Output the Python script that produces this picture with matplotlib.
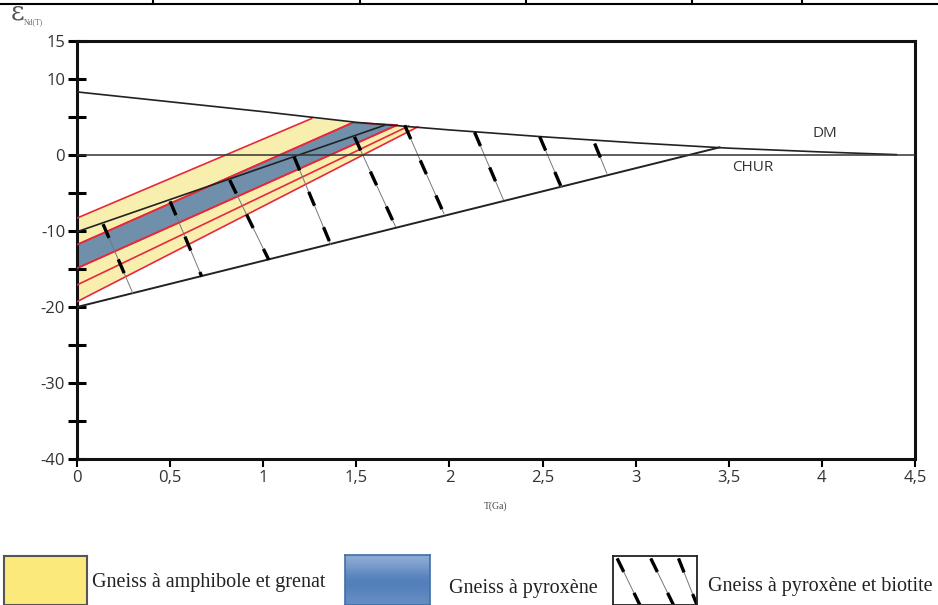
import numpy as np
import matplotlib
matplotlib.use("Agg")
import matplotlib.pyplot as plt
from matplotlib.patches import Polygon
from matplotlib.lines import Line2D
from matplotlib.colors import LinearSegmentedColormap

# DM (depleted mantle) curve
dm_t = [0.0, 0.5, 1.0, 1.5, 2.0, 2.5, 3.0, 3.5, 4.0, 4.4]
dm_e = [8.3, 7.0, 5.7, 4.3, 3.3, 2.4, 1.6, 0.9, 0.4, 0.05]

# CHUR
chur_t = [0.0, 4.5]
chur_e = [0.0, 0.0]

# red evolution lines (start at T=0, end on DM)
red_e0 = [-8.3, -11.8, -14.9, -17.1, -19.3]
red_t1 = [1.26, 1.48, 1.72, 1.78, 1.83]
red_e1 = [4.8, 4.25, 3.95, 3.8, 3.7]

# hatched field (pyroxene-biotite gneiss)
hat_top_t = [0.0, 1.65]
hat_top_e = [-10.1, 3.9]
hat_bot_t = [0.0, 3.45]
hat_bot_e = [-20.0, 1.0]
hatch_t0 = [0.14, 0.50, 0.82, 1.165, 1.49, 1.76, 2.135, 2.485, 2.78]
hatch_e0 = [-9.1, -6.1, -3.3, -0.2, 2.4, 3.9, 3.0, 2.4, 1.5]
hatch_t1 = [0.30, 0.67, 1.03, 1.363, 1.71, 1.97, 2.29, 2.60, 2.845]
hatch_e1 = [-18.2, -16.0, -13.8, -11.8, -9.4, -7.7, -5.9, -4.2, -2.4]

x_ticks = [0, 0.5, 1, 1.5, 2, 2.5, 3, 3.5, 4, 4.5]
x_labels = ["0", "0,5", "1", "1,5", "2", "2,5", "3", "3,5", "4", "4,5"]
y_ticks = [15, 10, 0, -10, -20, -30, -40]
y_minor = [5, -5, -15, -25, -35]

legend_labels = ["Gneiss à amphibole et grenat", "Gneiss à pyroxène",
                 "Gneiss à pyroxène et biotite"]

yellow = "#F8EFAE"
blue = "#6F8FAB"
red = "#E8283C"
hatch_style = (0, (4.5, 7.0))

W, H = 938, 605
fig = plt.figure(figsize=(W / 100, H / 100), dpi=100)
ax = fig.add_axes([77 / W, 1 - 459 / H, (915 - 77) / W, (459 - 41) / H])
ax.set_xlim(0, 4.5)
ax.set_ylim(-40, 15)

#Yellow field (between top and bottom red lines, closed along DM)
dm_seg_t = [t for t in dm_t if red_t1[0] < t < red_t1[-1]]
dm_seg_e = [e for t, e in zip(dm_t, dm_e) if red_t1[0] < t < red_t1[-1]]
ypoly = [(0, red_e0[0]), (red_t1[0], red_e1[0])] + list(zip(dm_seg_t, dm_seg_e)) + \
        [(red_t1[-1], red_e1[-1]), (0, red_e0[-1])]
ax.add_patch(Polygon(ypoly, closed=True, facecolor=yellow, edgecolor="none", zorder=1))

#Blue field
bpoly = [(0, red_e0[1]), (red_t1[1], red_e1[1]), (red_t1[2], red_e1[2]), (0, red_e0[2])]
ax.add_patch(Polygon(bpoly, closed=True, facecolor=blue, edgecolor=red, lw=1.2, zorder=2))

for e0, t1, e1 in zip(red_e0, red_t1, red_e1):
    ax.plot([0, t1], [e0, e1], color=red, lw=1.2, zorder=3)

#Hatched field boundaries
ax.plot(hat_top_t, hat_top_e, color="#222222", lw=1.2, zorder=4)
ax.plot(hat_bot_t, hat_bot_e, color="#222222", lw=1.4, zorder=4)

for t0, e0, t1, e1 in zip(hatch_t0, hatch_e0, hatch_t1, hatch_e1):
    ax.plot([t0, t1], [e0, e1], color="#777777", lw=0.7, zorder=4)
    ax.plot([t0, t1], [e0, e1], color="black", lw=2.4, zorder=5,
            linestyle=hatch_style, dash_capstyle="butt")

ax.plot(dm_t, dm_e, color="#222222", lw=1.2, zorder=4)
ax.plot(chur_t, chur_e, color="#333333", lw=1.1, zorder=4)

ax.text(3.95, 1.8, "DM", fontsize=11, color="#333333", family="Open Sans",
        ha="left", va="bottom")
ax.text(3.52, -0.6, "CHUR", fontsize=11, color="#333333", family="Open Sans",
        ha="left", va="top")

#Axes styling
for s in ax.spines.values():
    s.set_linewidth(2.2)
    s.set_color("#111111")
ax.set_xticks(x_ticks)
ax.set_xticklabels(x_labels, family="Open Sans", fontsize=12, color="#333333")
ax.set_yticks(y_ticks)
ax.set_yticklabels([str(v) for v in y_ticks], family="Open Sans", fontsize=12,
                   color="#333333")
ax.set_yticks(y_minor, minor=True)
ax.tick_params(axis="y", which="both", direction="inout", length=13, width=2.2,
               pad=2)
ax.tick_params(axis="x", which="both", direction="out", length=6, width=1.5, pad=2)
ax.tick_params(axis="x", which="minor", length=0)

ax.set_xlabel("T(Ga)", fontsize=7, family="Liberation Serif", color="#444444",
              labelpad=11)

fig.text(11 / W, 1 - 20 / H, "ε", fontsize=19, color="#555555", family="DejaVu Serif",
         va="baseline")
fig.text(24 / W, 1 - 24 / H, "Nd(T)", fontsize=5.5, color="#666666",
         family="Liberation Serif", va="baseline")

#Top table border stubs
fig.add_artist(Line2D([0, 1], [1 - 3.5 / H, 1 - 3.5 / H], color="black", lw=1.5))
for xv in [153, 360, 526, 692, 802]:
    fig.add_artist(Line2D([xv / W, xv / W], [1 - 3.5 / H, 1], color="black", lw=1.5))

#Legend boxes
def box_axes(x0, x1, y0):
    a = fig.add_axes([x0 / W, 0, (x1 - x0) / W, (H - y0) / H])
    a.set_xlim(0, 1)
    a.set_ylim(0, 1)
    a.set_xticks([])
    a.set_yticks([])
    return a

b1 = box_axes(4, 87, 556)
b1.set_facecolor("#FCE97C")
for s in b1.spines.values():
    s.set_color("#555555")
    s.set_linewidth(1.5)

b2 = box_axes(345, 430, 555)
bluemap = LinearSegmentedColormap.from_list("legblue", ["#4C7BB7", "#93AFD8"])
grad = np.array([[0.9], [0.45], [0.05], [0.15], [0.35]])
b2.imshow(grad, cmap=bluemap, vmin=0.0, vmax=1.0, aspect="auto",
          extent=[0, 1, 0, 1], interpolation="bicubic")
for s in b2.spines.values():
    s.set_color("#3F6FA8")
    s.set_linewidth(1.2)

b3 = box_axes(613, 697, 556)
for s in b3.spines.values():
    s.set_color("#222222")
    s.set_linewidth(1.3)
for xa, xb in [(0.05, 0.32), (0.45, 0.72), (0.78, 1.0)]:
    b3.plot([xa, xb], [0.95, 0.0], color="#777777", lw=0.7)
    b3.plot([xa, xb], [0.95, 0.0], color="black", lw=2.4, linestyle=hatch_style)

fig.text(92 / W, 1 - 583 / H, legend_labels[0], fontsize=14.5,
         family="Liberation Serif", color="#222222", va="center")
fig.text(449 / W, 1 - 588 / H, legend_labels[1], fontsize=14.5,
         family="Liberation Serif", color="#222222", va="center")
fig.text(708 / W, 1 - 586 / H, legend_labels[2], fontsize=14.5,
         family="Liberation Serif", color="#222222", va="center")

fig.savefig("out.png", dpi=100)
